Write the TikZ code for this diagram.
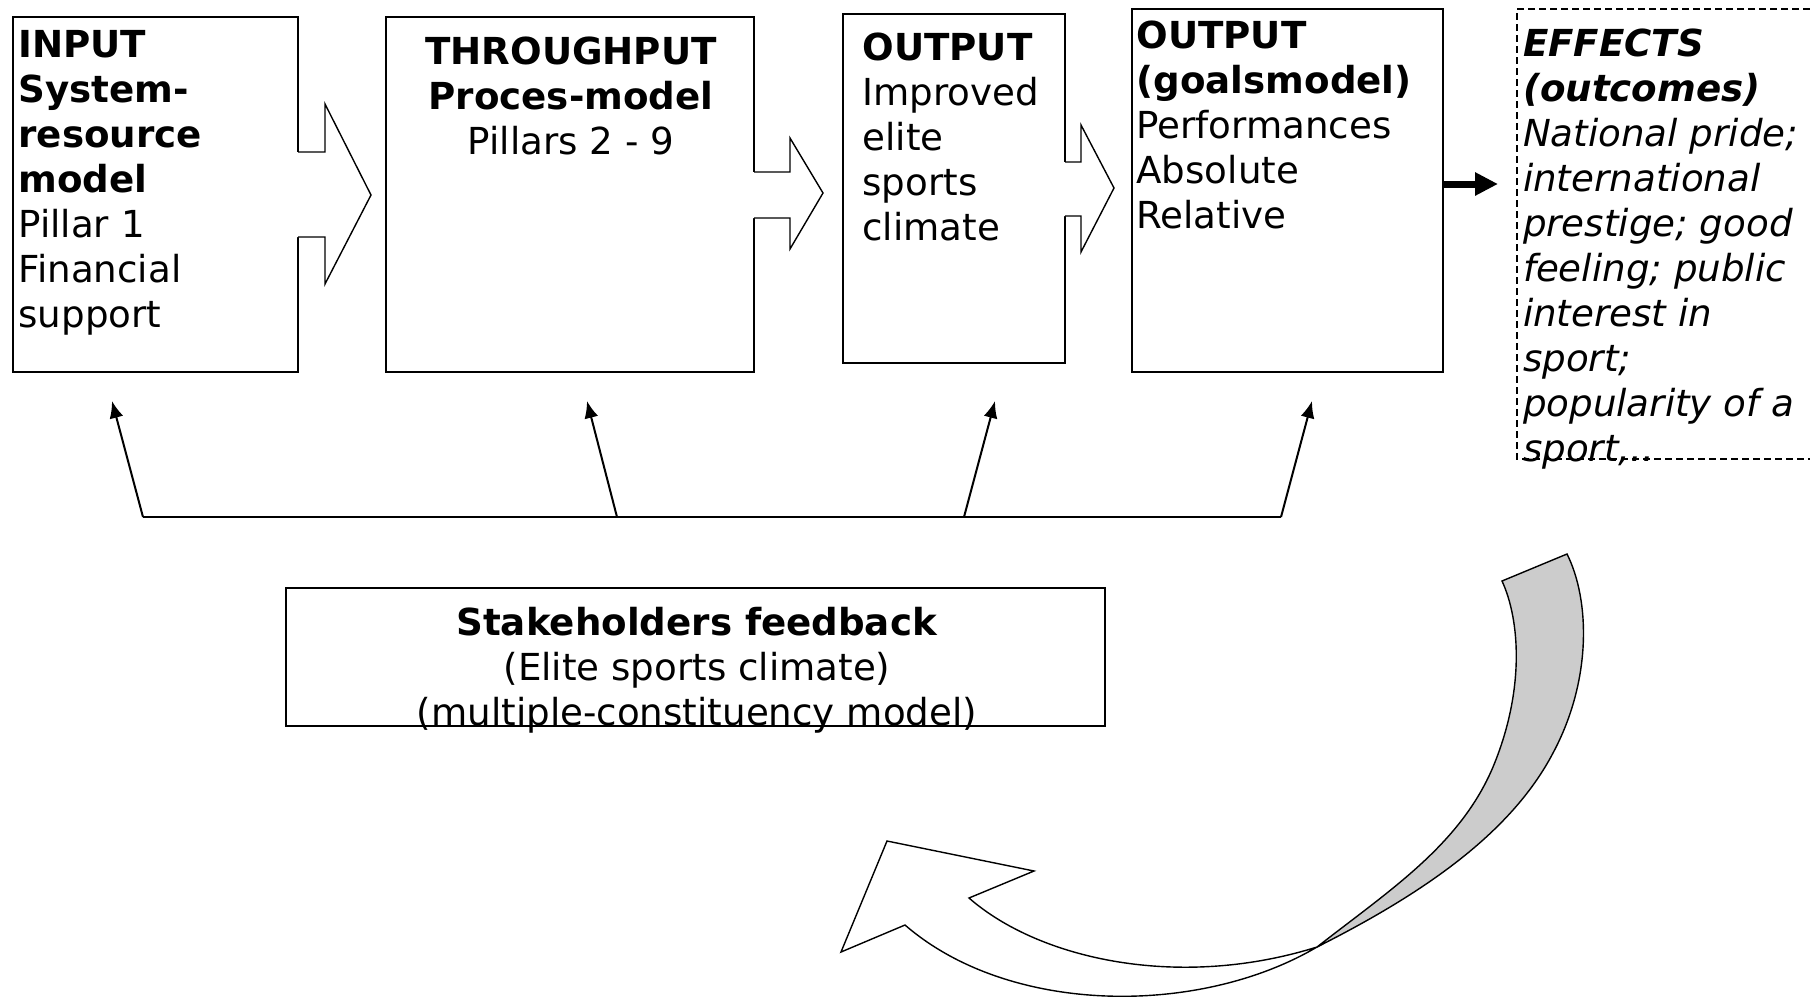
\documentclass[tikz,border=0pt]{standalone}
\usepackage{fontspec}
\setmainfont{DejaVu Sans}
\usetikzlibrary{arrows.meta}
\definecolor{ribbon}{RGB}{204,204,204}
\newcommand{\bodyfont}{\fontsize{18.6}{22.5}\selectfont}
\begin{document}
\begin{tikzpicture}[x=0.5pt,y=-0.5pt,
  box/.style={draw, line width=1pt, rectangle, inner sep=0pt, outer sep=0pt},
  txt/.style={inner sep=0pt, outer sep=0pt, anchor=base west, font=\bodyfont},
  ctxt/.style={inner sep=0pt, outer sep=0pt, anchor=base, font=\bodyfont},
  blockarrow/.style={line width=0.7pt, line join=miter, miter limit=20},
  fbline/.style={line width=1pt},
  fbarrow/.style={line width=1pt, -{Latex[length=8.5pt,width=7pt]}},
  thickarrow/.style={line width=3.5pt, -{Triangle[length=11.5pt,width=11pt]}},
  effbox/.style={line width=0.6pt, dash pattern=on 3.5pt off 2pt},
  curvearrow/.style={line width=0.7pt, line join=miter}]
\useasboundingbox (0,0) rectangle (1810,997);

% boxes
\node[box, minimum width=142.5pt, minimum height=177.5pt] (inp) at (155.5,194.5) {};
\node[box, minimum width=184pt, minimum height=177.5pt] (thr) at (570,194.5) {};
\node[box, minimum width=111pt, minimum height=174.5pt] (out) at (954,188.5) {};
\node[box, minimum width=155.5pt, minimum height=181.5pt] (goal) at (1287.5,190.5) {};
\node[box, minimum width=409.5pt, minimum height=69pt] (stake) at (695.5,657) {};
\draw[effbox] (1810,9) -- (1517,9) -- (1517,459) -- (1810,459);

% block arrows between boxes
\fill[white] (296,152) -- (325,152) -- (325,104) -- (371,195) -- (325,284) -- (325,237) -- (296,237) -- cycle;
\draw[blockarrow] (298,152) -- (325,152) -- (325,104) -- (371,195) -- (325,284) -- (325,237) -- (298,237);
\fill[white] (752,172) -- (790,172) -- (790,138) -- (823,193) -- (790,249) -- (790,218) -- (752,218) -- cycle;
\draw[blockarrow] (754,172) -- (790,172) -- (790,138) -- (823,193) -- (790,249) -- (790,218) -- (754,218);
\fill[white] (1063,162) -- (1081,162) -- (1081,125) -- (1114,188) -- (1081,252) -- (1081,216) -- (1063,216) -- cycle;
\draw[blockarrow] (1065,162) -- (1081,162) -- (1081,125) -- (1114,188) -- (1081,252) -- (1081,216) -- (1065,216);

% thick arrow to effects
\coordinate (thk) at (1498,184);
\draw[thickarrow] (goal.east |- thk) -- (thk);

% texts
\node[txt] (tinp) at (18.5,57) {\begin{tabular}[t]{@{}l@{}}\textbf{INPUT}\\\textbf{System-}\\\textbf{resource}\\\textbf{model}\\Pillar 1\\Financial\\support\end{tabular}};
\node[ctxt] (tthr) at (571,64) {\begin{tabular}[t]{@{}c@{}}\textbf{THROUGHPUT}\\\textbf{Proces-model}\\Pillars 2 - 9\end{tabular}};
\node[txt] (tout) at (862.5,60) {\begin{tabular}[t]{@{}l@{}}\textbf{OUTPUT}\\Improved\\elite\\sports\\climate\end{tabular}};
\node[txt] (tgoal) at (1136.5,48) {\begin{tabular}[t]{@{}l@{}}\textbf{OUTPUT}\\\textbf{(goalsmodel)}\\Performances\\Absolute\\Relative\end{tabular}};
\node[txt] (teff) at (1523,56) {\itshape\begin{tabular}[t]{@{}l@{}}\textbf{EFFECTS}\\\textbf{(outcomes)}\\National pride;\\international\\prestige; good\\feeling; public\\interest in\\sport;\\popularity of a\\sport,..\end{tabular}};
\node[ctxt] (tstake) at (697,635) {\begin{tabular}[t]{@{}c@{}}\textbf{Stakeholders feedback}\\(Elite sports climate)\\(multiple-constituency model)\end{tabular}};

% feedback connectors
\coordinate (f1) at (143,517);
\coordinate (f2) at (617,517);
\coordinate (f3) at (964,517);
\coordinate (f4) at (1281,517);
\coordinate (t1) at (112,401);
\coordinate (t2) at (587,401);
\coordinate (t3) at (995,401);
\coordinate (t4) at (1312,401);
\draw[fbline] (f1) -- (f4);
\draw[fbarrow] (f1) -- (t1);
\draw[fbarrow] (f2) -- (t2);
\draw[fbarrow] (f3) -- (t3);
\draw[fbarrow] (f4) -- (t4);

% curved feedback arrow
\coordinate (tailL) at (1502,581);
\coordinate (tailR) at (1567,554);
\coordinate (cross) at (1317,947);
\filldraw[curvearrow, fill=ribbon] (tailL) .. controls (1520,620) and (1525,690) .. (1493,767)
  .. controls (1460,845) and (1390,890) .. (cross)
  .. controls (1420,895) and (1510,835) .. (1553,753)
  .. controls (1592,680) and (1590,600) .. (tailR) -- cycle;
\filldraw[curvearrow, fill=white] (1034,871) -- (969,898)
  .. controls (1040,960) and (1180,990) .. (cross)
  .. controls (1200,1016) and (1010,1016) .. (905,925)
  -- (841,952) -- (887,841) -- cycle;
\end{tikzpicture}
\end{document}
